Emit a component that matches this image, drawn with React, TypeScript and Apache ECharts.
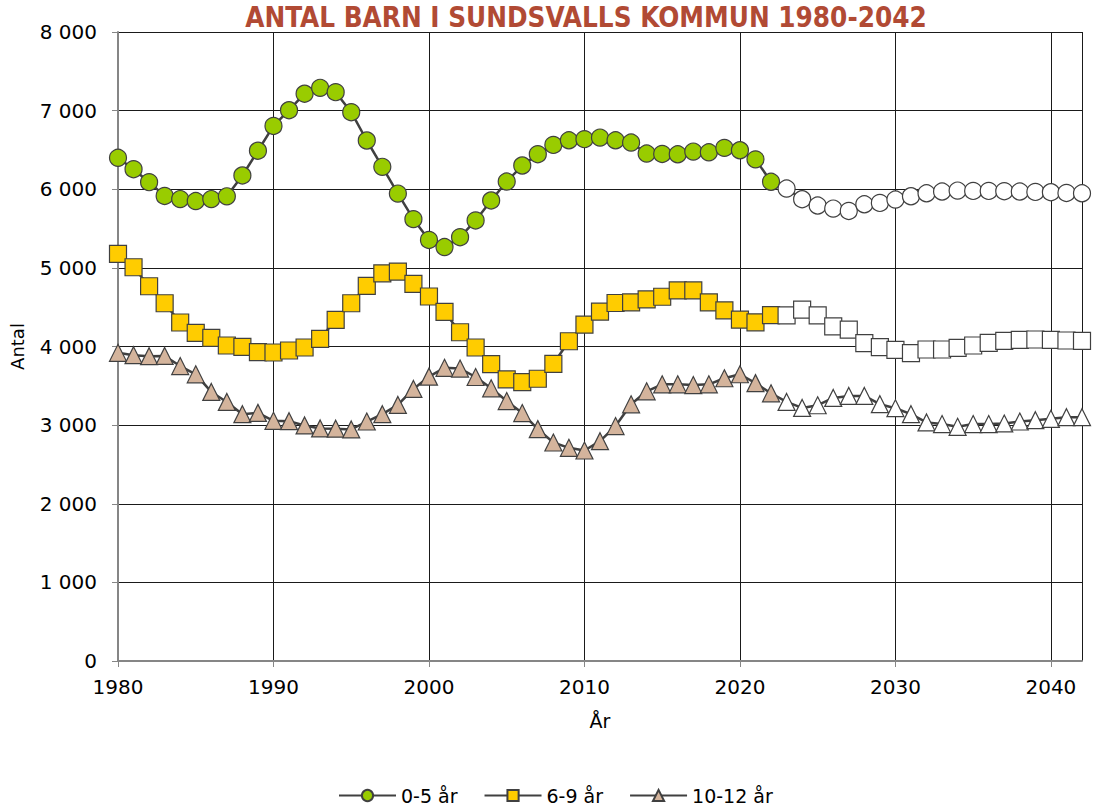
import React, { useEffect, useRef } from "react";
import * as echarts from "echarts";

const TITLE = "ANTAL BARN I SUNDSVALLS KOMMUN 1980-2042";
const SERIES_NAMES = ["0-5 år", "6-9 år", "10-12 år"];
const FIRST_PROJECTION_YEAR = 2023;

const years = [
  1980, 1981, 1982, 1983, 1984, 1985, 1986, 1987, 1988, 1989,
  1990, 1991, 1992, 1993, 1994, 1995, 1996, 1997, 1998, 1999,
  2000, 2001, 2002, 2003, 2004, 2005, 2006, 2007, 2008, 2009,
  2010, 2011, 2012, 2013, 2014, 2015, 2016, 2017, 2018, 2019,
  2020, 2021, 2022, 2023, 2024, 2025, 2026, 2027, 2028, 2029,
  2030, 2031, 2032, 2033, 2034, 2035, 2036, 2037, 2038, 2039,
  2040, 2041, 2042,
];

const age0to5 = [
  6400, 6255, 6090, 5915, 5875, 5850, 5875, 5910, 6175, 6490,
  6805, 7005, 7215, 7290, 7235, 6980, 6620, 6285, 5945, 5620,
  5355, 5265, 5390, 5603, 5857, 6098, 6302, 6446, 6564, 6623,
  6637, 6657, 6623, 6594, 6454, 6449, 6445, 6479, 6470, 6526,
  6496, 6380, 6095, 6009, 5873, 5793, 5754, 5724, 5809, 5826,
  5869, 5911, 5949, 5971, 5983, 5979, 5979, 5975, 5971, 5966,
  5962, 5953, 5949,
];

const age6to9 = [
  5178, 5008, 4766, 4550, 4305, 4174, 4110, 4013, 3996, 3928,
  3924, 3949, 3987, 4097, 4339, 4550, 4771, 4931, 4953, 4797,
  4636, 4440, 4181, 3987, 3776, 3582, 3548, 3590, 3780, 4067,
  4278, 4443, 4553, 4561, 4599, 4633, 4713, 4713, 4561, 4460,
  4342, 4308, 4400, 4396, 4469, 4396, 4257, 4215, 4042, 3992,
  3958, 3915, 3962, 3962, 3983, 4013, 4047, 4072, 4085, 4089,
  4085, 4076, 4072,
];

const age10to12 = [
  3920, 3890, 3877, 3880, 3751, 3646, 3422, 3295, 3139, 3156,
  3055, 3050, 2996, 2958, 2955, 2945, 3046, 3139, 3257, 3460,
  3617, 3729, 3719, 3612, 3468, 3306, 3153, 2949, 2779, 2711,
  2677, 2796, 2988, 3265, 3430, 3519, 3519, 3510, 3519, 3596,
  3647, 3534, 3405, 3295, 3219, 3253, 3346, 3371, 3371, 3266,
  3215, 3139, 3034, 3013, 2979, 3013, 3013, 3021, 3046, 3063,
  3080, 3101, 3101,
];

const FONT = "'DejaVu Sans', 'Noto Sans', sans-serif";
const LINE_COLOR = "#404040";

function buildData(values: number[]) {
  return values.map((v, i) => {
    const item: any = { value: [years[i], v] };
    if (years[i] >= FIRST_PROJECTION_YEAR) {
      item.itemStyle = { color: "#ffffff" };
    }
    return item;
  });
}

function fmtThousands(v: number) {
  return String(v).replace(/\B(?=(\d{3})+(?!\d))/g, " ");
}

export default function App() {
  const ref = useRef<HTMLDivElement>(null);

  useEffect(() => {
    if (!ref.current) return;
    const chart = echarts.init(ref.current, undefined, { renderer: "svg" });

    const mkSeries = (name: string, values: number[], symbol: string, color: string) => ({
      name,
      type: "line",
      data: buildData(values),
      symbol,
      symbolSize: 17,
      showAllSymbol: true,
      lineStyle: { color: LINE_COLOR, width: 2.5 },
      itemStyle: { color, borderColor: LINE_COLOR, borderWidth: 1.2 },
      emphasis: { disabled: true },
      z: 3,
    });

    chart.setOption({
      animation: false,
      backgroundColor: "#ffffff",
      title: {
        text: TITLE,
        left: 581,
        top: -2,
        textAlign: "center",
        textStyle: {
          fontFamily: "'DejaVu Sans Condensed', 'DejaVu Sans', sans-serif",
          fontWeight: "bold",
          fontSize: 27.6,
          color: "#b14a34",
        },
      },
      legend: {
        left: 338,
        top: 786,
        padding: 0,
        itemWidth: 57,
        itemHeight: 14,
        itemGap: 26,
        data: SERIES_NAMES,
        textStyle: { fontFamily: FONT, fontSize: 19, color: "#000" },
      },
      grid: { left: 117, right: 13, top: 32, bottom: 144, containLabel: false },
      xAxis: {
        type: "value",
        min: 1980,
        max: 2042,
        interval: 10,
        name: "År",
        nameLocation: "middle",
        nameGap: 50,
        nameTextStyle: { fontFamily: FONT, fontSize: 19, color: "#000" },
        axisLine: { show: true, lineStyle: { color: "#868686", width: 2 } },
        axisTick: { show: true, length: 6, lineStyle: { color: "#868686", width: 1 } },
        axisLabel: {
          showMaxLabel: false,
          margin: 16,
          fontFamily: FONT,
          fontSize: 20,
          color: "#000",
          formatter: (v: number) => String(v),
        },
        splitLine: { show: true, lineStyle: { color: "#1a1a1a", width: 1 } },
      },
      yAxis: {
        type: "value",
        min: 0,
        max: 8000,
        interval: 1000,
        name: "Antal",
        nameLocation: "middle",
        nameGap: 92,
        nameTextStyle: { fontFamily: FONT, fontSize: 18, color: "#000" },
        axisLine: { show: true, lineStyle: { color: "#868686", width: 2 } },
        axisTick: { show: true, length: 6, lineStyle: { color: "#868686", width: 1 } },
        axisLabel: {
          margin: 21,
          fontFamily: FONT,
          fontSize: 20,
          color: "#000",
          formatter: (v: number) => fmtThousands(v),
        },
        splitLine: { show: true, lineStyle: { color: "#1a1a1a", width: 1 } },
      },
      series: [
        mkSeries(SERIES_NAMES[0], age0to5, "circle", "#99cc00"),
        mkSeries(SERIES_NAMES[1], age6to9, "rect", "#ffcc00"),
        mkSeries(SERIES_NAMES[2], age10to12, "triangle", "#d4b49c"),
      ],
    });

    return () => chart.dispose();
  }, []);

  return (
    <div
      ref={ref}
      style={{ position: "fixed", left: 0, top: 0, width: 1095, height: 805, background: "#fff" }}
    />
  );
}
